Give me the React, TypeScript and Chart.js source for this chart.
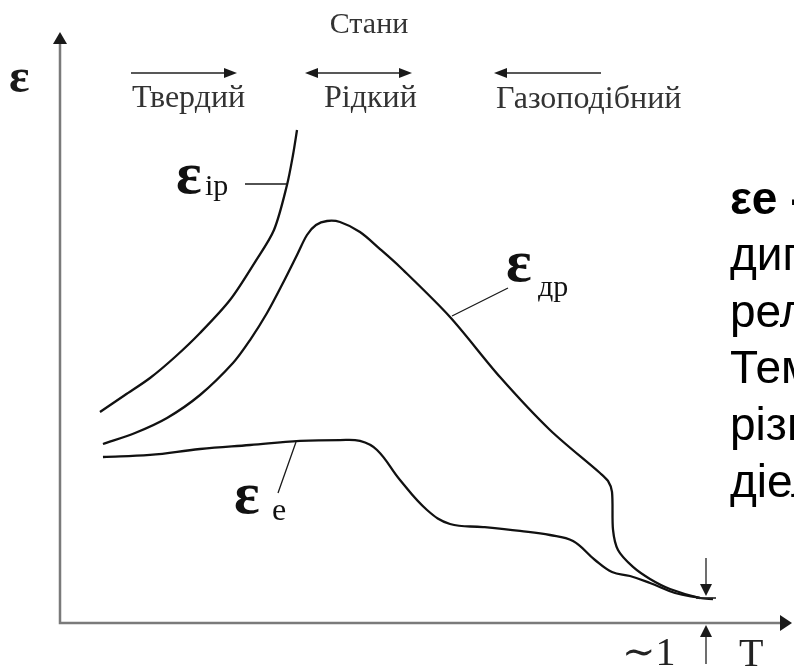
import React, { useEffect, useRef } from "react";
import { Chart, registerables } from "chart.js";

Chart.register(...registerables);

// T values (arbitrary units, 0..100) and ε values (arbitrary units, 0..100)
const T_IP = [5.46, 8.88, 12.3, 15.71, 19.13, 23.22, 26.64, 29.23, 31.01, 31.83, 32.38];
const EPS_IP = [35.7, 38.58, 41.46, 45.01, 49.07, 54.65, 61.08, 66.5, 74.11, 79.19, 83.42];

const T_DR = [5.87, 10.25, 14.62, 19.13, 23.63, 25.96, 28.28, 30.46, 32.38, 33.74, 34.97, 36.48, 38.25, 40.98, 43.72, 46.45, 53.28, 60.11, 66.94, 73.77, 74.86, 75.41, 75.55, 76.23, 78.28, 80.6, 83.33, 87.43, 89.21];
const EPS_DR = [30.29, 32.15, 34.69, 38.58, 43.99, 47.88, 52.45, 57.53, 62.27, 65.65, 67.34, 68.02, 67.85, 66.16, 63.28, 60.24, 51.78, 41.62, 32.66, 25.38, 24.03, 22.17, 15.74, 12.35, 9.48, 7.45, 5.75, 4.23, 4.06];

const T_E = [5.87, 12.3, 19.13, 25.96, 32.79, 38.25, 40.98, 43.31, 46.45, 50.14, 53.28, 57.79, 62.84, 66.94, 70.08, 73.09, 75.41, 77.87, 80.6, 84.02, 87.43];
const EPS_E = [28.09, 28.43, 29.44, 30.12, 30.8, 30.96, 30.8, 29.27, 24.2, 19.12, 16.75, 16.24, 15.57, 14.89, 13.87, 10.66, 8.63, 7.95, 6.77, 5.08, 4.23];

const STATES_TITLE = "Стани";
const STATE_LABELS = ["Твердий", "Рідкий", "Газоподібний"];
const SIDE_TEXT = ["εе - електронна", "дипольна", "релаксаційна", "Температура", "різних", "діелектриків"];

const toPoints = (xs: number[], ys: number[]) => xs.map((x, i) => ({ x, y: ys[i] }));

const SERIF = '"Liberation Serif", "DejaVu Serif", serif';
const SANS = '"Liberation Sans", Arial, sans-serif';

function arrowHead(ctx: CanvasRenderingContext2D, tx: number, ty: number, dx: number, dy: number, len: number, half: number) {
  const bx = tx - dx * len;
  const by = ty - dy * len;
  const px = -dy;
  const py = dx;
  ctx.beginPath();
  ctx.moveTo(tx, ty);
  ctx.lineTo(bx + px * half, by + py * half);
  ctx.lineTo(bx - px * half, by - py * half);
  ctx.closePath();
  ctx.fill();
}

const decorPlugin = {
  id: "decor",
  beforeDatasetsDraw(chart: any) {
    const ctx: CanvasRenderingContext2D = chart.ctx;
    const a = chart.chartArea;
    ctx.save();
    ctx.strokeStyle = "#7a7a7a";
    ctx.lineWidth = 2.5;
    ctx.beginPath();
    ctx.moveTo(a.left, a.top + 8);
    ctx.lineTo(a.left, a.bottom);
    ctx.lineTo(a.right - 6, a.bottom);
    ctx.stroke();
    ctx.fillStyle = "#1a1a1a";
    arrowHead(ctx, a.left, a.top, 0, -1, 12, 7);
    arrowHead(ctx, a.right, a.bottom, 1, 0, 12, 8);
    ctx.restore();
  },
  afterDatasetsDraw(chart: any) {
    const ctx: CanvasRenderingContext2D = chart.ctx;
    ctx.save();
    ctx.textBaseline = "alphabetic";
    ctx.textAlign = "left";

    // axis label ε
    ctx.fillStyle = "#1a1a1a";
    ctx.font = `bold 48px ${SERIF}`;
    ctx.fillText("ε", 9, 92);

    // states
    ctx.fillStyle = "#333";
    ctx.font = `30px ${SERIF}`;
    ctx.textAlign = "center";
    ctx.fillText(STATES_TITLE, 369, 33);
    ctx.font = `32px ${SERIF}`;
    ctx.textAlign = "left";
    ctx.fillText(STATE_LABELS[0], 132, 107);
    ctx.fillText(STATE_LABELS[1], 324, 107);
    ctx.fillText(STATE_LABELS[2], 496, 108);

    // state arrows
    ctx.strokeStyle = "#222";
    ctx.fillStyle = "#1a1a1a";
    ctx.lineWidth = 1.4;
    const ay = 73;
    ctx.beginPath();
    ctx.moveTo(131, ay); ctx.lineTo(228, ay);
    ctx.moveTo(314, ay); ctx.lineTo(403, ay);
    ctx.moveTo(503, ay); ctx.lineTo(601, ay);
    ctx.stroke();
    arrowHead(ctx, 237, ay, 1, 0, 13, 5);
    arrowHead(ctx, 305, ay, -1, 0, 13, 5);
    arrowHead(ctx, 412, ay, 1, 0, 13, 5);
    arrowHead(ctx, 494, ay, -1, 0, 13, 5);

    // leader lines
    ctx.strokeStyle = "#1a1a1a";
    ctx.lineWidth = 1.3;
    ctx.beginPath();
    ctx.moveTo(245, 184); ctx.lineTo(287, 184);
    ctx.moveTo(508, 288); ctx.lineTo(452, 316);
    ctx.moveTo(278, 493); ctx.lineTo(296, 442);
    ctx.stroke();

    // curve labels
    ctx.fillStyle = "#111";
    ctx.font = `bold 60px ${SERIF}`;
    ctx.fillText("ε", 176, 193);
    ctx.fillText("ε", 506, 281);
    ctx.fillText("ε", 234, 513);
    ctx.font = `30px ${SERIF}`;
    ctx.fillText("ip", 205, 195);
    ctx.fillText("др", 538, 296);
    ctx.font = `32px ${SERIF}`;
    ctx.fillText("e", 272, 520);

    // ~1 marker
    const mx = 706;
    ctx.strokeStyle = "#222";
    ctx.lineWidth = 1.3;
    ctx.beginPath();
    ctx.moveTo(mx, 558); ctx.lineTo(mx, 585);
    ctx.moveTo(mx, 636); ctx.lineTo(mx, 664);
    ctx.stroke();
    ctx.fillStyle = "#1a1a1a";
    arrowHead(ctx, mx, 596, 0, 1, 12, 6);
    arrowHead(ctx, mx, 625, 0, -1, 12, 6);
    ctx.strokeStyle = "#222";
    ctx.lineWidth = 1.6;
    ctx.beginPath();
    ctx.moveTo(696, 598); ctx.lineTo(716, 598);
    ctx.stroke();

    ctx.fillStyle = "#222";
    ctx.font = `40px ${SERIF}`;
    ctx.fillText("∼1", 622, 665);
    ctx.fillText("T", 739, 666);

    // side text
    ctx.fillStyle = "#000";
    const baselines = [214, 270, 327, 383, 440, 497];
    SIDE_TEXT.forEach((t, i) => {
      ctx.font = `${i === 0 ? "bold " : ""}46px ${SANS}`;
      ctx.fillText(t, 730, baselines[i]);
    });
    ctx.restore();
  },
};

export default function App() {
  const ref = useRef<HTMLCanvasElement | null>(null);
  useEffect(() => {
    if (!ref.current) return;
    const style = { borderColor: "#111", borderWidth: 2.3, pointRadius: 0, showLine: true, tension: 0.3, fill: false };
    const chart = new Chart(ref.current, {
      type: "scatter",
      data: {
        datasets: [
          { label: "εip", data: toPoints(T_IP, EPS_IP), ...style },
          { label: "εдр", data: toPoints(T_DR, EPS_DR), ...style },
          { label: "εe", data: toPoints(T_E, EPS_E), ...style, tension: 0.4 },
        ],
      },
      options: {
        responsive: false,
        animation: false,
        devicePixelRatio: 1,
        layout: { padding: { left: 60, right: 2, top: 32, bottom: 45 } },
        plugins: { legend: { display: false }, tooltip: { enabled: false } },
        scales: {
          x: { type: "linear", min: 0, max: 100, display: false },
          y: { type: "linear", min: 0, max: 100, display: false },
        },
      },
      plugins: [decorPlugin],
    });
    return () => chart.destroy();
  }, []);
  return (
    <div style={{ position: "fixed", left: 0, top: 0, width: 794, height: 668, background: "#fff" }}>
      <canvas ref={ref} width={794} height={668} />
    </div>
  );
}
